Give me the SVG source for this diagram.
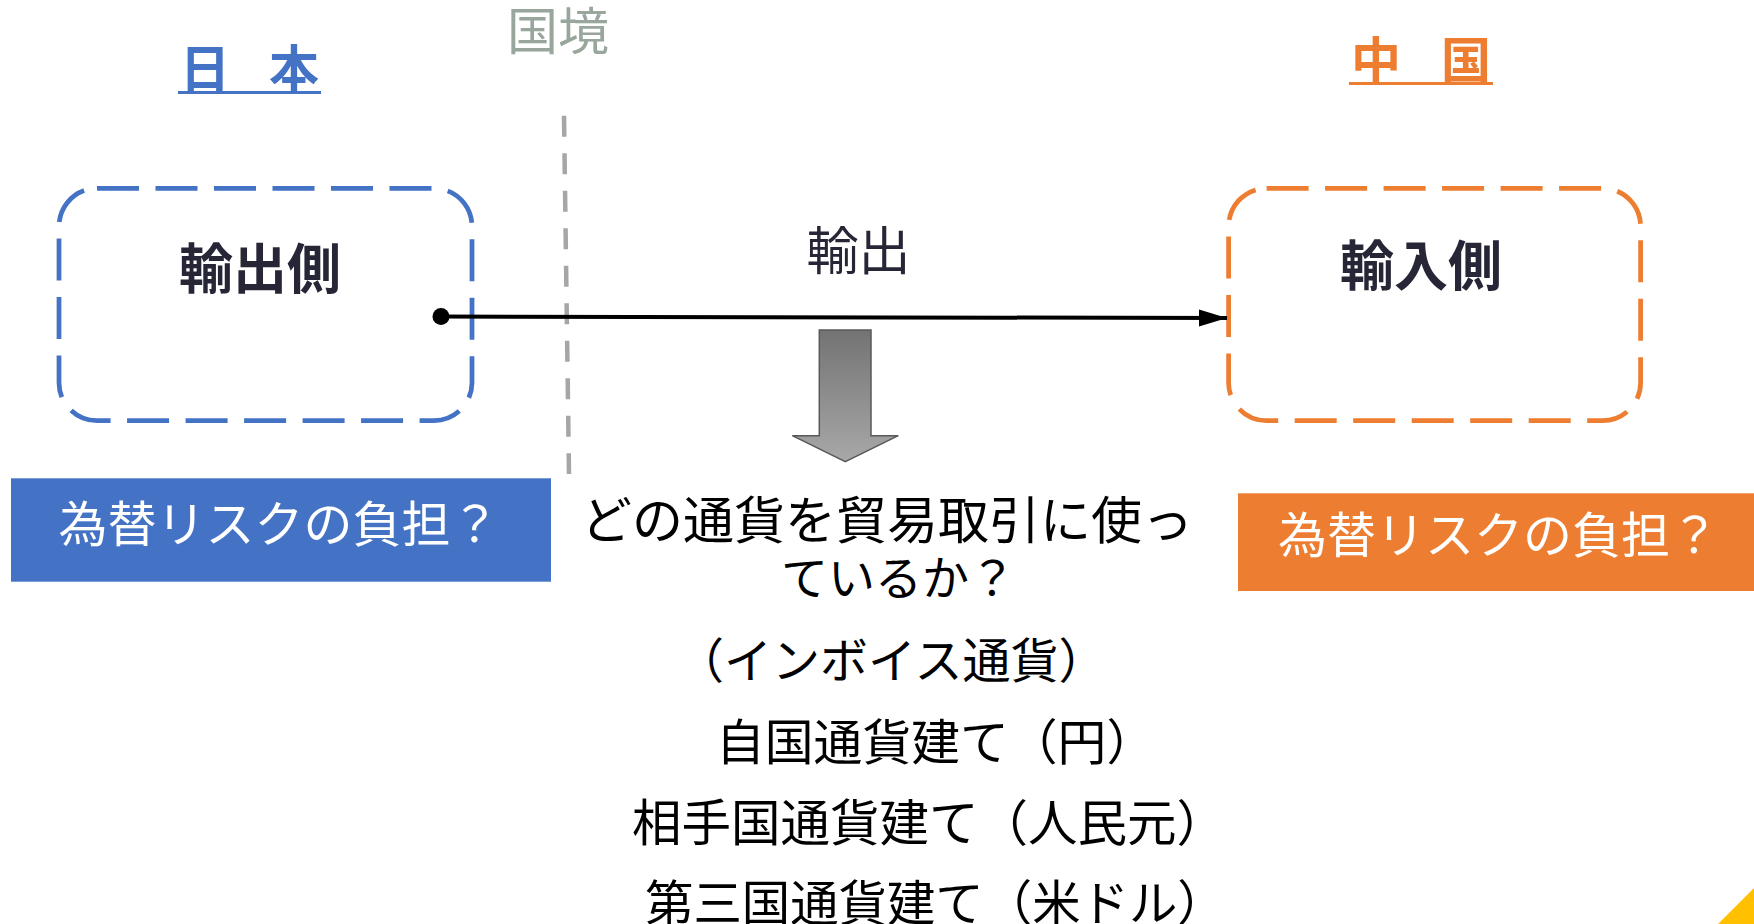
<svg xmlns="http://www.w3.org/2000/svg" width="1754" height="924" viewBox="0 0 1754 924">
  <style>
    .jp { font-family: "Noto Sans CJK JP", "Noto Sans CJK SC", sans-serif; }
    .title { font-size: 50px; font-weight: bold; }
    .node-label { font-size: 54px; font-weight: bold; fill: #262636; }
    .box { fill: none; stroke-width: 4.75; stroke-dasharray: 42 16.5; }
    .risk { font-size: 49px; fill: #FFFFFF; }
    .body { fill: #000000; }
  </style>
  <defs>
    <marker id="arrowhead" markerUnits="userSpaceOnUse" markerWidth="30" markerHeight="18" refX="28" refY="9" orient="auto">
      <path d="M0,0.5 L28,9 L0,17.5 Z" fill="#000000"/>
    </marker>
    <linearGradient id="grayGrad" x1="0" y1="0" x2="0" y2="1">
      <stop offset="0" stop-color="#737373"/>
      <stop offset="1" stop-color="#A8A8A8"/>
    </linearGradient>
  </defs>

  <rect x="0" y="0" width="1754" height="924" fill="#FFFFFF"/>

  <!-- Country headings -->
  <g id="label-japan">
    <text class="jp title" x="180 225 269" y="87" fill="#4472C4">日 本</text>
    <line x1="178" y1="92.5" x2="321" y2="92.5" stroke="#4472C4" stroke-width="3"/>
  </g>
  <g id="label-border">
    <text class="jp" x="507" y="50" font-size="51" fill="#98A69C">国境</text>
  </g>
  <g id="label-china">
    <text class="jp title" x="1351 1396 1441" y="79" fill="#ED7D31">中 国</text>
    <line x1="1349" y1="83.5" x2="1493" y2="83.5" stroke="#ED7D31" stroke-width="3"/>
  </g>

  <!-- Border line -->
  <g id="border-line">
    <line x1="564" y1="115.7" x2="569" y2="474" stroke="#A6A6A6" stroke-width="4.5" stroke-dasharray="21 16.5"/>
  </g>

  <!-- Exporter node -->
  <g id="node-exporter">
    <rect class="box" x="59" y="188.3" width="413" height="232.4" rx="38" ry="38" stroke="#4472C4"/>
    <text class="jp node-label" x="260" y="289" text-anchor="middle">輸出側</text>
  </g>

  <!-- Importer node -->
  <g id="node-importer">
    <rect class="box" x="1228.6" y="188.3" width="412" height="232.4" rx="38" ry="38" stroke="#ED7D31"/>
    <text class="jp node-label" x="1421" y="285.5" text-anchor="middle">輸入側</text>
  </g>

  <!-- Connectors -->
  <g id="connectors">
    <circle cx="441" cy="316.6" r="8.5" fill="#000000"/>
    <line x1="441" y1="316.6" x2="1227" y2="318" stroke="#000000" stroke-width="4" marker-end="url(#arrowhead)"/>
    <text class="jp" x="858.5" y="269.5" font-size="52" fill="#262636" text-anchor="middle">輸出</text>
  </g>

  <!-- Block arrow -->
  <g id="block-arrow">
    <polygon points="819.3,330 871,330 871,435.7 898.3,435.7 845.3,461.7 792.3,435.7 819.3,435.7" fill="url(#grayGrad)" stroke="#595959" stroke-width="1.5"/>
  </g>

  <!-- Risk labels -->
  <g id="node-risk-japan">
    <rect x="11" y="478.3" width="540" height="103.4" fill="#4472C4"/>
    <text class="jp risk" x="58.5" y="541.5">為替リスクの負担？</text>
  </g>
  <g id="node-risk-china">
    <rect x="1238" y="493.3" width="516" height="97.7" fill="#ED7D31"/>
    <text class="jp risk" x="1278" y="553" font-size="50">為替リスクの負担？</text>
  </g>

  <!-- Question text -->
  <g id="node-question" class="jp body">
    <text x="581" y="539" font-size="51">どの通貨を貿易取引に使っ</text>
    <text x="781" y="595" font-size="47">ているか？</text>
    <text x="676" y="678" font-size="48">（インボイス通貨）</text>
    <text x="716" y="760" font-size="48.8">自国通貨建て（円）</text>
    <text x="632" y="840.5" font-size="49.5">相手国通貨建て（人民元）</text>
    <text x="645" y="921" font-size="48.4">第三国通貨建て（米ドル）</text>
  </g>

  <!-- Corner decoration -->
  <g id="corner">
    <polygon points="1718,924 1754,888 1754,924" fill="#FFC000"/>
  </g>
</svg>
